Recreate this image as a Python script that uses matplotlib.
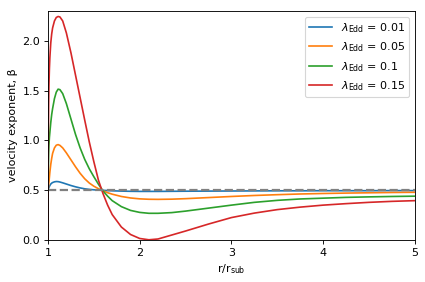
import matplotlib
matplotlib.use("Agg")
import matplotlib.pyplot as plt
import numpy as np

# r / r_sub sample positions
r = [1.0, 1.001, 1.002, 1.004, 1.007, 1.01, 1.015, 1.02, 1.03, 1.04, 1.05,
     1.07, 1.09, 1.11, 1.13, 1.16, 1.2, 1.25, 1.3, 1.35, 1.4, 1.45, 1.5,
     1.55, 1.6, 1.65, 1.7, 1.8, 1.9, 2.0, 2.1, 2.2, 2.35, 2.5, 2.75, 3.0,
     3.25, 3.5, 3.75, 4.0, 4.25, 4.5, 4.75, 5.0]

lambda_edd = ["0.01", "0.05", "0.1", "0.15"]

beta_001 = [0.5, 0.503, 0.507, 0.513, 0.52, 0.527, 0.538, 0.548, 0.562, 0.571,
            0.577, 0.584, 0.587, 0.586, 0.582, 0.574, 0.562, 0.547, 0.534, 0.523,
            0.514, 0.508, 0.504, 0.501, 0.499, 0.496, 0.494, 0.491, 0.489, 0.488,
            0.488, 0.488, 0.489, 0.49, 0.491, 0.492, 0.493, 0.494, 0.494, 0.495,
            0.495, 0.495, 0.496, 0.496]
beta_005 = [0.45, 0.48, 0.5, 0.53, 0.56, 0.58, 0.63, 0.68, 0.76, 0.82,
            0.87, 0.925, 0.952, 0.958, 0.95, 0.925, 0.875, 0.805, 0.735, 0.67,
            0.615, 0.572, 0.54, 0.515, 0.495, 0.475, 0.46, 0.437, 0.422, 0.413,
            0.409, 0.408, 0.41, 0.415, 0.426, 0.437, 0.447, 0.455, 0.462, 0.467,
            0.471, 0.474, 0.477, 0.479]
beta_010 = [0.2, 0.45, 0.6, 0.75, 0.88, 0.95, 1.03, 1.08, 1.18, 1.26,
            1.32, 1.42, 1.485, 1.515, 1.51, 1.47, 1.37, 1.215, 1.06, 0.925,
            0.81, 0.715, 0.635, 0.56, 0.492, 0.44, 0.395, 0.335, 0.297, 0.277,
            0.268, 0.268, 0.275, 0.29, 0.32, 0.35, 0.378, 0.398, 0.412, 0.42,
            0.428, 0.433, 0.437, 0.44]
beta_015 = [0.0, 0.55, 0.8, 1.1, 1.38, 1.55, 1.72, 1.83, 1.98, 2.07,
            2.13, 2.20, 2.235, 2.245, 2.24, 2.20, 2.08, 1.88, 1.655, 1.43,
            1.205, 0.985, 0.785, 0.60, 0.465, 0.35, 0.255, 0.13, 0.055, 0.015,
            0.002, 0.01, 0.05, 0.09, 0.16, 0.225, 0.27, 0.305, 0.33, 0.35,
            0.365, 0.378, 0.388, 0.395]

beta_ref = 0.5

fig = plt.figure(figsize=(425 / 80, 282 / 80), dpi=80)
ax = fig.add_axes([0.113, 0.149, 0.863, 0.812])

for vals, lam in zip([beta_001, beta_005, beta_010, beta_015], lambda_edd):
    ax.plot(r, vals, label=r'$\lambda_{\rm Edd}$ = ' + lam)
ax.axhline(beta_ref, color='grey', linestyle='--', linewidth=2)

ax.set_xlim(1, 5)
ax.set_ylim(0, 2.3)
ax.set_xticks([1, 2, 3, 4, 5])
ax.set_xlabel(r'r/r$_{\rm sub}$')
ax.set_ylabel('velocity exponent, β')
ax.legend(loc='upper right')

plt.savefig('out.png', dpi=80)
